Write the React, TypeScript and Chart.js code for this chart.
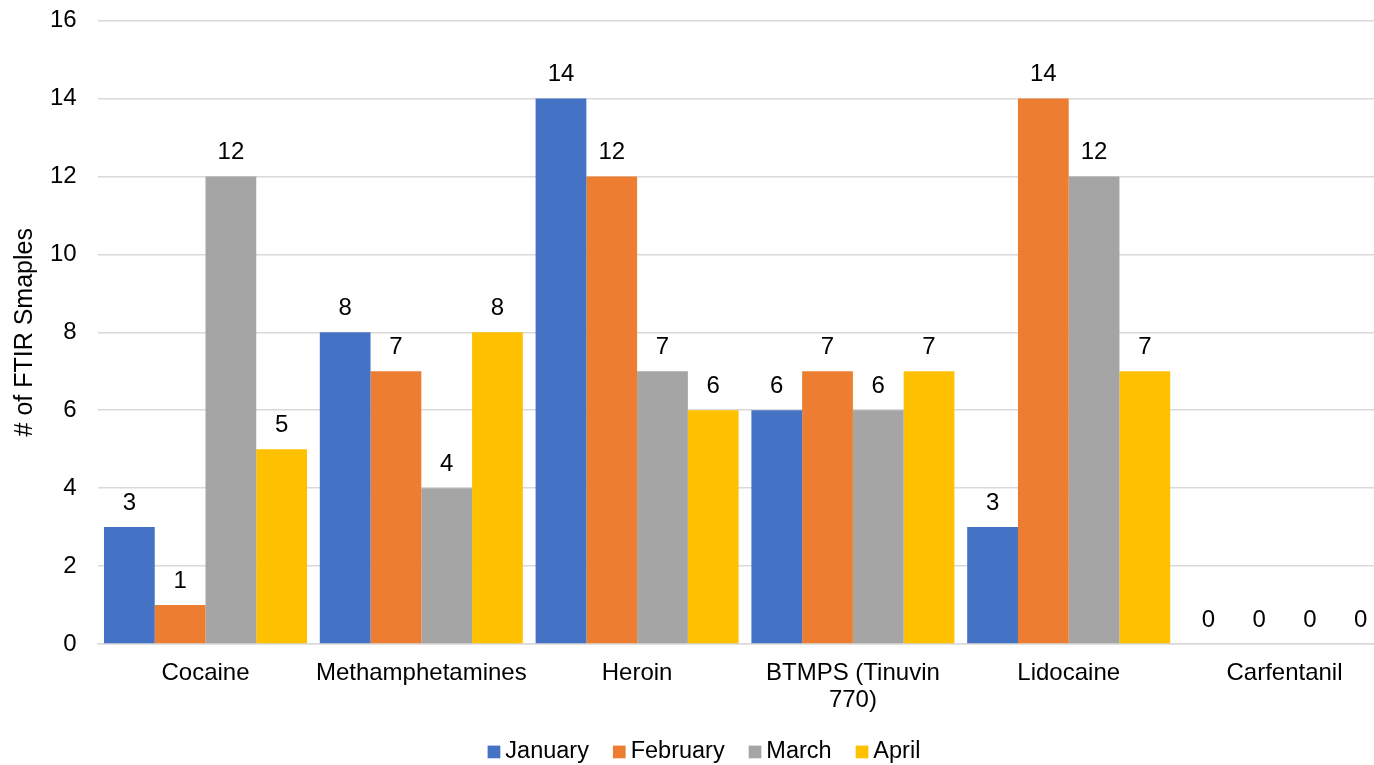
import { useEffect, useRef } from "react";
import { Chart, registerables } from "chart.js";

Chart.register(...registerables);

const categories: (string | string[])[] = [
  "Cocaine",
  "Methamphetamines",
  "Heroin",
  ["BTMPS (Tinuvin", "770)"],
  "Lidocaine",
  "Carfentanil",
];
const seriesNames = ["January", "February", "March", "April"];
const january = [3, 8, 14, 6, 3, 0];
const february = [1, 7, 12, 7, 14, 0];
const march = [12, 4, 7, 6, 12, 0];
const april = [5, 8, 6, 7, 7, 0];
const seriesValues = [january, february, march, april];
const seriesColors = ["#4472C4", "#ED7D31", "#A5A5A5", "#FFC000"];
const yMin = 0;
const yMax = 16;
const yStep = 2;
const yTitle = "# of FTIR Smaples";

const FONT = "'Liberation Sans', Arial, sans-serif";
const FONT_SIZE = 24;

const dataLabelPlugin = {
  id: "dataLabels",
  afterDatasetsDraw(chart: any) {
    const ctx = chart.ctx;
    ctx.save();
    ctx.font = `${FONT_SIZE}px ${FONT}`;
    ctx.fillStyle = "#000";
    ctx.textAlign = "center";
    ctx.textBaseline = "alphabetic";
    chart.data.datasets.forEach((ds: any, i: number) => {
      const meta = chart.getDatasetMeta(i);
      meta.data.forEach((bar: any, j: number) => {
        ctx.fillText(String(ds.data[j]), bar.x, bar.y - 17);
      });
    });
    ctx.restore();
  },
};

const legendPlugin = {
  id: "customLegend",
  afterDraw(chart: any) {
    const ctx = chart.ctx;
    ctx.save();
    ctx.font = `23.5px ${FONT}`;
    const box = 12.7;
    const gap = 5;
    const spacing = 24;
    const items = chart.data.datasets.map((ds: any) => ({
      text: ds.label,
      color: ds.backgroundColor,
      w: ctx.measureText(ds.label).width,
    }));
    const total =
      items.reduce((s: number, it: any) => s + box + gap + it.w, 0) +
      spacing * (items.length - 1);
    let x = chart.width / 2 - total / 2;
    const baseline = 758.3;
    items.forEach((it: any) => {
      ctx.fillStyle = it.color;
      ctx.fillRect(x, baseline - box, box, box);
      ctx.fillStyle = "#000";
      ctx.textAlign = "left";
      ctx.textBaseline = "alphabetic";
      ctx.fillText(it.text, x + box + gap, baseline);
      x += box + gap + it.w + spacing;
    });
    ctx.restore();
  },
};

export default function App() {
  const ref = useRef<HTMLCanvasElement | null>(null);

  useEffect(() => {
    document.body.style.margin = "0";
    const canvas = ref.current;
    if (!canvas) return;
    const chart = new Chart(canvas, {
      type: "bar",
      data: {
        labels: categories as any,
        datasets: seriesNames.map((name, i) => ({
          label: name,
          data: seriesValues[i],
          backgroundColor: seriesColors[i],
          borderWidth: 0,
          barPercentage: 1,
          categoryPercentage: 0.9407,
        })),
      },
      options: {
        responsive: false,
        animation: false,
        devicePixelRatio: 1,
        layout: { padding: { top: 20.5, right: 15.6, bottom: 0, left: 0 } },
        plugins: {
          legend: { display: false },
          tooltip: { enabled: false },
        },
        scales: {
          x: {
            grid: { display: false, drawTicks: false },
            border: { display: true, color: "#D9D9D9", width: 1.5 },
            ticks: {
              color: "#000",
              font: { family: FONT, size: FONT_SIZE, lineHeight: 1.112 },
              padding: 16,
              maxRotation: 0,
              autoSkip: false,
            },
            afterFit(scale: any) {
              scale.height = 765 - 644;
            },
          },
          y: {
            min: yMin,
            max: yMax,
            grid: { color: "#D9D9D9", lineWidth: 1.5, drawTicks: false },
            border: { display: false },
            ticks: {
              stepSize: yStep,
              color: "#000",
              font: { family: FONT, size: FONT_SIZE },
              padding: 21,
            },
            title: {
              display: true,
              text: yTitle,
              color: "#000",
              font: { family: FONT, size: 25 },
              padding: { top: 10, bottom: 0 },
            },
            afterFit(scale: any) {
              scale.width = 97.6;
              scale.paddingTop = 0;
              scale.paddingBottom = 0;
            },
          },
        },
      },
      plugins: [dataLabelPlugin, legendPlugin],
    });
    return () => chart.destroy();
  }, []);

  return (
    <div
      style={{
        position: "absolute",
        left: 0,
        top: 0,
        width: 1374,
        height: 765,
        overflow: "hidden",
        background: "#fff",
      }}
    >
      <canvas ref={ref} width={1408} height={765} style={{ display: "block" }} />
    </div>
  );
}
